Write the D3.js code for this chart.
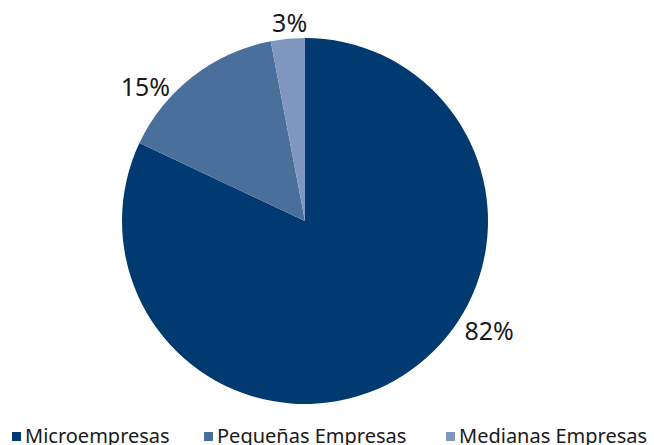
<!DOCTYPE html>
<html>
<head>
<meta charset="utf-8">
<script src="https://cdn.jsdelivr.net/npm/d3@7"></script>
<style>
  body { margin: 0; background: #fff; }
  svg { display: block; font-family: "Noto Sans", Lato, sans-serif; }
</style>
</head>
<body>
<svg id="chart" width="654" height="445"></svg>
<script>
// data
const categories = ["Microempresas", "Pequeñas Empresas", "Medianas Empresas"];
const values = [82, 15, 3];
const labels = ["82%", "15%", "3%"];

const colors = ["#003a70", "#4b6f9c", "#7f97bf"];
// label placement tweaks (degrees off the slice mid angle, distance from centre)
const labelNudge = [-27, -12, 1];
const labelRadius = [214, 209, 200];

const svg = d3.select("#chart");
const cx = 305, cy = 221, radius = 183;

const g = svg.append("g").attr("transform", `translate(${cx},${cy})`);

// Excel-style: first slice starts at 12 o'clock and goes clockwise
const pie = d3.pie().sort(null).value((d) => d);
const arcs = pie(values);
const arc = d3.arc().innerRadius(0).outerRadius(radius);

g.selectAll("path.slice")
  .data(arcs)
  .enter()
  .append("path")
  .attr("class", "slice")
  .attr("d", arc)
  .attr("fill", (d, i) => colors[i]);

// percentage labels outside the pie
g.selectAll("text.lbl")
  .data(arcs)
  .enter()
  .append("text")
  .attr("class", "lbl")
  .attr("transform", (d, i) => {
    const mid = (d.startAngle + d.endAngle) / 2 + (labelNudge[i] * Math.PI) / 180;
    const [x, y] = d3.pointRadial(mid, labelRadius[i]);
    return `translate(${x},${y})`;
  })
  .attr("text-anchor", "middle")
  .attr("dominant-baseline", "central")
  .attr("font-size", 25)
  .attr("fill", "#1a1a1a")
  .text((d, i) => labels[i]);

// LEGEND along the bottom
const legendX = [12, 204, 446];
const legend = svg.append("g").attr("class", "legend");
const item = legend.selectAll("g")
  .data(categories)
  .enter()
  .append("g")
  .attr("transform", (d, i) => `translate(${legendX[i]},0)`);

item.append("rect")
  .attr("x", 0)
  .attr("y", 432)
  .attr("width", 9)
  .attr("height", 9)
  .attr("fill", (d, i) => colors[i]);

item.append("text")
  .attr("x", 13)
  .attr("y", 443)
  .attr("font-size", 20)
  .attr("fill", "#1a1a1a")
  .text((d) => d);
</script>
</body>
</html>
